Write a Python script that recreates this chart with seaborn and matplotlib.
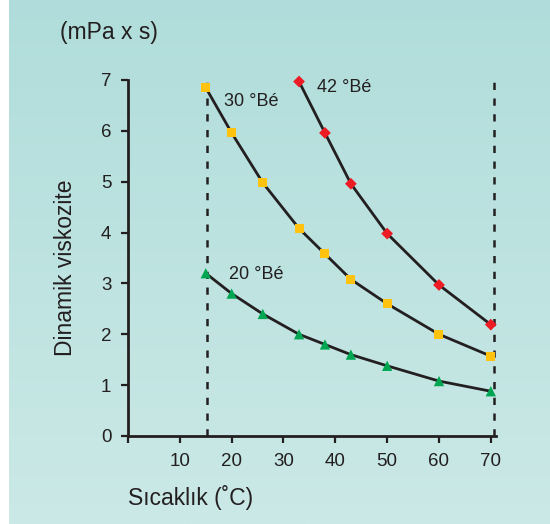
import numpy as np
import pandas as pd
import matplotlib
matplotlib.use("Agg")
import matplotlib.pyplot as plt
from matplotlib.colors import LinearSegmentedColormap
import seaborn as sns

# Data
temp_20 = [15, 20, 26, 33, 38, 43, 50, 60, 70]
visc_20 = [3.2, 2.8, 2.4, 2.0, 1.8, 1.6, 1.38, 1.08, 0.88]
temp_30 = [15, 20, 26, 33, 38, 43, 50, 60, 70]
visc_30 = [6.85, 5.96, 4.98, 4.08, 3.58, 3.08, 2.6, 2.0, 1.57]
temp_42 = [33, 38, 43, 50, 60, 70]
visc_42 = [6.97, 5.96, 4.96, 3.98, 2.97, 2.19]
x_ticks = [10, 20, 30, 40, 50, 60, 70]
y_ticks = [0, 1, 2, 3, 4, 5, 6, 7]
series_labels = ["20 °Bé", "30 °Bé", "42 °Bé"]

df = pd.concat([
    pd.DataFrame({"T": temp_20, "V": visc_20, "s": series_labels[0]}),
    pd.DataFrame({"T": temp_30, "V": visc_30, "s": series_labels[1]}),
    pd.DataFrame({"T": temp_42, "V": visc_42, "s": series_labels[2]}),
])

sns.set_style("white")
plt.rcParams["font.family"] = ["Liberation Sans", "DejaVu Sans"]

W, H = 550, 524
fig = plt.figure(figsize=(W / 100, H / 100), dpi=100, facecolor="white")

# gradient background panel
bg = fig.add_axes([9 / W, 0, 1 - 9 / W, 1])
cmap = LinearSegmentedColormap.from_list("bg", ["#b0dddb", "#cbe9e6"])
bg.imshow(np.linspace(0, 1, 256).reshape(-1, 1), aspect="auto", cmap=cmap,
          extent=[0, 1, 0, 1], origin="upper")
bg.set_axis_off()

ax = fig.add_axes([128 / W, 88 / H, 368 / W, 356 / H])
ax.set_facecolor("none")

dark = "#231f20"
colors = {series_labels[0]: "#00a651", series_labels[1]: "#ffc20e", series_labels[2]: "#ed1c24"}
markers = {series_labels[0]: "^", series_labels[1]: "s", series_labels[2]: "D"}
sizes = {series_labels[0]: 55, series_labels[1]: 42, series_labels[2]: 36}

# dashed vertical limits
ax.axvline(15.3, ymin=0, ymax=1, color=dark, lw=1.8, ls=(0, (2.9, 3.4)), zorder=1)
ax.axvline(70.6, ymin=0, ymax=1, color=dark, lw=1.8, ls=(0, (2.9, 3.4)), zorder=1)

for s in series_labels:
    sub = df[df["s"] == s]
    sns.lineplot(data=sub, x="T", y="V", color=dark, lw=2, ax=ax, zorder=2,
                 legend=False, sort=False)
    sns.scatterplot(data=sub, x="T", y="V", color=colors[s], marker=markers[s],
                    s=sizes[s], edgecolor="none", ax=ax, zorder=3, clip_on=False,
                    legend=False)

ax.set_xlim(0, 71)
ax.set_ylim(0, 7)
ax.set_xticks([0] + x_ticks)
ax.set_xticklabels([""] + [str(v) for v in x_ticks])
ax.set_yticks(y_ticks)
ax.set_yticklabels([str(v) for v in y_ticks])
for sp in ["top", "right"]:
    ax.spines[sp].set_visible(False)
for sp in ["left", "bottom"]:
    ax.spines[sp].set_color(dark)
    ax.spines[sp].set_linewidth(2)
ax.tick_params(axis="both", direction="out", length=5, width=1.6, color=dark,
               labelsize=13.5, labelcolor=dark, pad=7, bottom=True, left=True)
ax.set_xlabel("")
ax.set_ylabel("")

ax.text(18.6, 6.57, "30 °Bé", fontsize=13, color=dark, va="center", ha="left")
ax.text(36.5, 6.86, "42 °Bé", fontsize=13, color=dark, va="center", ha="left")
ax.text(19.4, 3.17, "20 °Bé", fontsize=13, color=dark, va="center", ha="left")

fig.text(65 / W, 1 - 268 / H, "Dinamik viskozite", rotation=90, fontsize=16.5,
         color=dark, ha="center", va="center")
fig.text(128 / W, 1 - 497 / H, "Sıcaklık (˚C)", fontsize=16.5, color=dark,
         ha="left", va="center")
fig.text(60 / W, 1 - 32 / H, "(mPa x s)", fontsize=16.5, color=dark,
         ha="left", va="center")

fig.savefig("out.png", dpi=100, facecolor="white")
